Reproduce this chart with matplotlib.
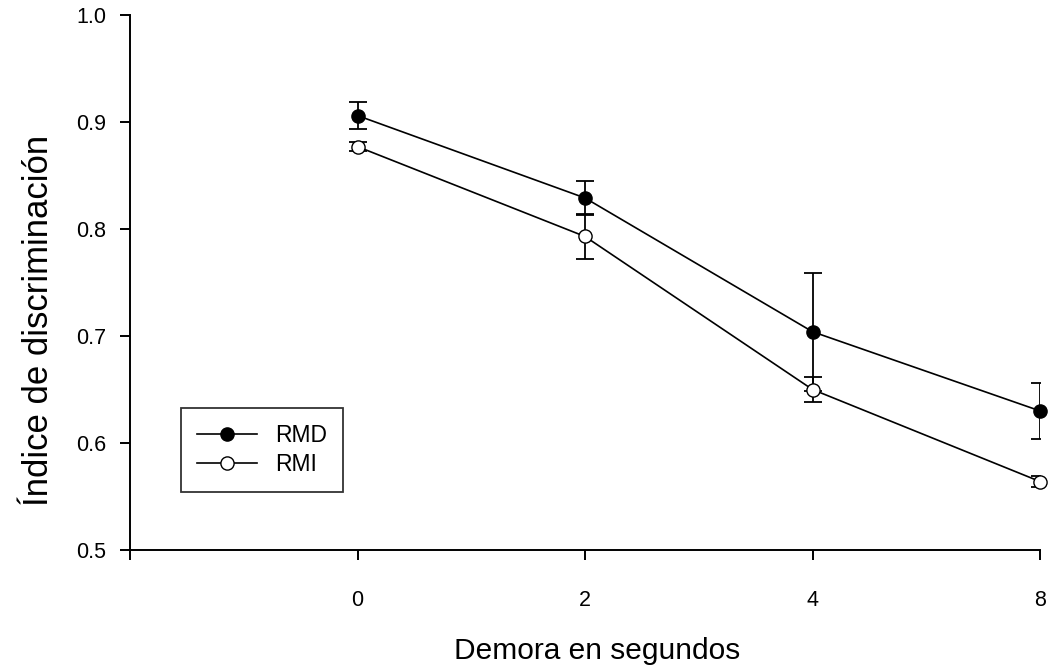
import matplotlib
matplotlib.use("Agg")
import matplotlib.pyplot as plt

plt.rcParams['font.family'] = ['Liberation Sans', 'DejaVu Sans']

# delay conditions (seconds) and discrimination index per group
delays = ['0', '2', '4', '8']
rmd_mean = [0.906, 0.829, 0.704, 0.630]
rmd_err = [0.0125, 0.016, 0.055, 0.026]
rmi_mean = [0.877, 0.793, 0.650, 0.564]
rmi_err = [0.004, 0.021, 0.012, 0.005]

pos = list(range(len(delays)))

fig = plt.figure(figsize=(10.55, 6.72), dpi=100)
ax = fig.add_axes([130 / 1055, 122 / 672, 910 / 1055, 535 / 672])

# error bars first so the markers sit on top of them
ax.errorbar(pos, rmd_mean, yerr=rmd_err, fmt='none', ecolor='black',
            elinewidth=1.3, capsize=6.5, capthick=1.3, zorder=2)
ax.errorbar(pos, rmi_mean, yerr=rmi_err, fmt='none', ecolor='black',
            elinewidth=1.3, capsize=6.5, capthick=1.3, zorder=2)
ax.plot(pos, rmd_mean, '-o', color='black', mfc='black', mec='black',
        ms=9.5, lw=1.2, label='RMD', zorder=3, clip_on=False)
ax.plot(pos, rmi_mean, '-o', color='black', mfc='white', mec='black',
        ms=9.5, lw=1.2, label='RMI', zorder=3, clip_on=False)

ax.set_xlim(-1, 3)
ax.set_ylim(0.5, 1.0)
ax.set_xticks([-1] + pos)
ax.set_xticklabels([''] + delays)
ax.set_yticks([0.5, 0.6, 0.7, 0.8, 0.9, 1.0])
ax.set_yticklabels(['0.5', '0.6', '0.7', '0.8', '0.9', '1.0'])

for side in ('top', 'right'):
    ax.spines[side].set_visible(False)
for side in ('left', 'bottom'):
    ax.spines[side].set_linewidth(1.4)

ax.tick_params(axis='both', direction='out', length=7, width=1.4, labelsize=15.5)
ax.tick_params(axis='x', pad=22)
ax.tick_params(axis='y', pad=10)

ax.set_xlabel('Demora en segundos', fontsize=21.5)
ax.xaxis.set_label_coords(0.513, -0.163)
ax.set_ylabel('Índice de discriminación', fontsize=25)
ax.yaxis.set_label_coords(-0.082, 0.43)

leg = ax.legend(loc='lower left', bbox_to_anchor=(51 / 910, 58 / 535),
                fontsize=16.5, frameon=True, fancybox=False, edgecolor='black',
                borderpad=0.7, borderaxespad=0, handlelength=2.6,
                handletextpad=0.8, labelspacing=0.25)
leg.get_frame().set_linewidth(1.3)

fig.savefig('out.png', dpi=100)
